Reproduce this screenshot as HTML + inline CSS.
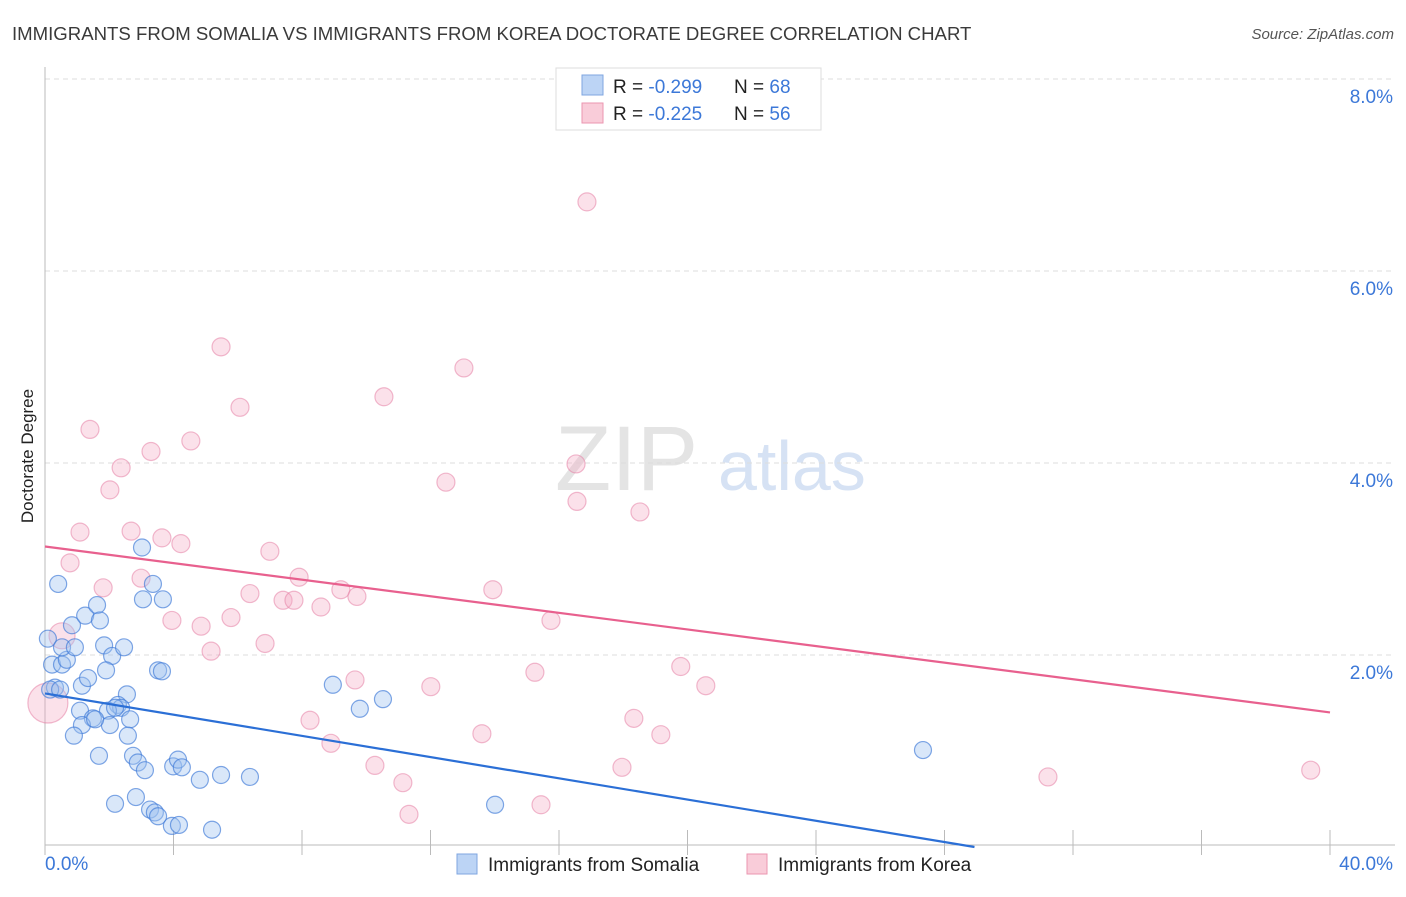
<!DOCTYPE html>
<html><head><meta charset="utf-8"><style>
body{margin:0;background:#fff;font-family:"Liberation Sans",sans-serif;}
svg text{font-family:"Liberation Sans",sans-serif;}
</style></head><body>
<svg width="1406" height="892" xmlns="http://www.w3.org/2000/svg">
<text x="12" y="40" font-size="18.6" fill="#3a3a3a">IMMIGRANTS FROM SOMALIA VS IMMIGRANTS FROM KOREA DOCTORATE DEGREE CORRELATION CHART</text>
<text x="1394" y="39" font-size="15" fill="#555" text-anchor="end" font-style="italic">Source: ZipAtlas.com</text>
<text x="555" y="490" font-size="92" fill="#e4e4e4" font-family="Liberation Serif">ZIP</text>
<text x="718" y="490" font-size="70" fill="#d6e2f4">atlas</text>
<g id="grid"></g>
<g id="axes"></g>
<g id="marks"></g>
<text transform="translate(33,456) rotate(-90)" font-size="17" fill="#222" text-anchor="middle">Doctorate Degree</text>
<g>
<rect x="556" y="68" width="265" height="62" fill="#fff" stroke="#ddd"/>
<rect x="582" y="75" width="21" height="20" fill="#bcd4f5" stroke="#7fa6e0"/>
<text x="613" y="93" font-size="19" fill="#222">R = <tspan fill="#3c78d8">-0.299</tspan></text>
<text x="734" y="93" font-size="19" fill="#222">N = <tspan fill="#3c78d8">68</tspan></text>
<rect x="582" y="103" width="21" height="20" fill="#f9ccd9" stroke="#eb96b0"/>
<text x="613" y="120" font-size="19" fill="#222">R = <tspan fill="#3c78d8">-0.225</tspan></text>
<text x="734" y="120" font-size="19" fill="#222">N = <tspan fill="#3c78d8">56</tspan></text>
</g>
<g>
<rect x="457" y="854" width="20" height="20" fill="#bcd4f5" stroke="#7fa6e0"/>
<text x="488" y="871" font-size="19" fill="#222">Immigrants from Somalia</text>
<rect x="747" y="854" width="20" height="20" fill="#f9ccd9" stroke="#eb96b0"/>
<text x="778" y="871" font-size="19" fill="#222">Immigrants from Korea</text>
</g>
</svg>
<script>
const xTicks=[0,4,8,12,16,20,24,28,32,36,40];
const yTicks=[2,4,6,8];
const xLabels=["0.0%","40.0%"];
const somaliaX=[0.09,0.41,0.22,0.31,0.53,0.68,0.53,0.84,0.93,1.25,1.62,1.71,1.15,1.34,1.09,1.49,1.15,0.9,1.84,2.09,2.46,1.9,2.55,2.27,2.37,1.96,2.02,2.65,2.58,1.68,2.74,2.89,3.11,2.18,2.83,3.27,3.42,3.52,3.95,4.17,3.99,4.14,4.26,4.82,5.2,5.48,6.38,3.02,3.36,3.05,3.67,3.52,3.64,8.96,9.8,10.52,14.01,27.33,0.16,0.47,1.56,2.18];
const somaliaY=[2.17,2.74,1.9,1.66,1.9,1.95,2.08,2.31,2.08,2.41,2.52,2.36,1.68,1.76,1.42,1.34,1.27,1.16,2.1,1.99,2.08,1.84,1.59,1.48,1.45,1.42,1.27,1.33,1.16,0.95,0.95,0.88,0.8,0.45,0.52,0.39,0.36,0.32,0.22,0.23,0.84,0.91,0.83,0.70,0.18,0.75,0.73,3.12,2.74,2.58,2.58,1.84,1.83,1.69,1.44,1.54,0.44,1.01,1.64,1.64,1.33,1.45];
const koreaX=[0.09,0.53,0.78,1.09,1.4,1.81,2.02,2.37,2.68,2.99,3.3,3.64,3.95,4.23,4.54,4.86,5.17,5.48,5.79,6.07,6.38,6.85,7.0,7.41,7.75,7.91,8.25,8.59,8.9,9.21,9.71,9.65,10.27,10.55,11.14,11.33,12.01,12.48,13.04,13.6,13.94,15.25,15.44,15.75,16.53,16.56,16.87,17.96,18.33,18.52,19.17,19.79,20.57,31.22,39.4];
const koreaY=[1.5,2.2,2.96,3.28,4.35,2.7,3.72,3.95,3.29,2.8,4.12,3.22,2.36,3.16,4.23,2.3,2.04,5.21,2.39,4.58,2.64,2.12,3.08,2.57,2.57,2.81,1.32,2.5,1.08,2.68,2.61,1.74,0.85,4.69,0.67,0.34,1.67,3.8,4.99,1.18,2.68,1.82,0.44,2.36,3.99,3.6,6.72,0.83,1.34,3.49,1.17,1.88,1.68,0.73,0.8];
const koreaR=[20,13,9,9,9,9,9,9,9,9,9,9,9,9,9,9,9,9,9,9,9,9,9,9,9,9,9,9,9,9,9,9,9,9,9,9,9,9,9,9,9,9,9,9,9,9,9,9,9,9,9,9,9,9,9];
const somaliaLine=[1.6,-0.0553];
const koreaLine=[3.13,-0.0432];
const NS="http://www.w3.org/2000/svg";
const X0=45,X1=1330,Y0=847,PY=96;
function sx(v){return X0+v/40*(X1-X0);}
function sy(v){return Y0-v*PY;}
function mk(t,a,p){const e=document.createElementNS(NS,t);for(const k in a)e.setAttribute(k,a[k]);p.appendChild(e);return e;}
const grid=document.getElementById('grid'),axes=document.getElementById('axes'),marks=document.getElementById('marks');
yTicks.forEach(v=>{
 const l=mk('line',{x1:X0,x2:1394,y1:sy(v),y2:sy(v),stroke:'#ddd','stroke-dasharray':'5,4'},grid);
 
 
 const t=mk('text',{x:1393,y:sy(v)+24,'font-size':19,fill:'#3c78d8','text-anchor':'end'},axes);
 t.textContent=v.toFixed(1)+'%';
 
 
});
const ya=mk('line',{x1:X0,x2:X0,y1:67,y2:845,stroke:'#bbb'},axes);


const xa=mk('line',{x1:X0,x2:X1+65,y1:845,y2:845,stroke:'#bbb'},axes);


xTicks.forEach(v=>{
 const t=mk('line',{x1:sx(v),x2:sx(v),y1:830,y2:855,stroke:'#bbb'},axes);
 
 
});
[[0,xLabels[0],'start',45],[40,xLabels[1],'end',1393]].forEach(d=>{
 const t=mk('text',{x:d[3],y:870,'font-size':19,fill:'#3c78d8','text-anchor':d[2]},axes);
 t.textContent=d[1];
 
 
});
koreaX.forEach((x,i)=>{
 const c=mk('circle',{cx:sx(x),cy:sy(koreaY[i]),r:koreaR[i],fill:'rgba(244,170,195,0.35)',stroke:'rgba(230,130,165,0.55)','stroke-width':1.2},marks);
 
 
});
somaliaX.forEach((x,i)=>{
 const c=mk('circle',{cx:sx(x),cy:sy(somaliaY[i]),r:8.5,fill:'rgba(160,195,240,0.4)',stroke:'rgba(60,120,215,0.65)','stroke-width':1.2},marks);
 
 
});
const bEnd=-somaliaLine[0]/somaliaLine[1];
const bl=mk('line',{x1:sx(0),y1:sy(somaliaLine[0]),x2:sx(bEnd),y2:sy(0),stroke:'#2b6fd6','stroke-width':2.2},marks);


const pl=mk('line',{x1:sx(0),y1:sy(koreaLine[0]),x2:sx(40),y2:sy(koreaLine[0]+koreaLine[1]*40),stroke:'#e8608e','stroke-width':2.2},marks);


</script>
</body></html>
